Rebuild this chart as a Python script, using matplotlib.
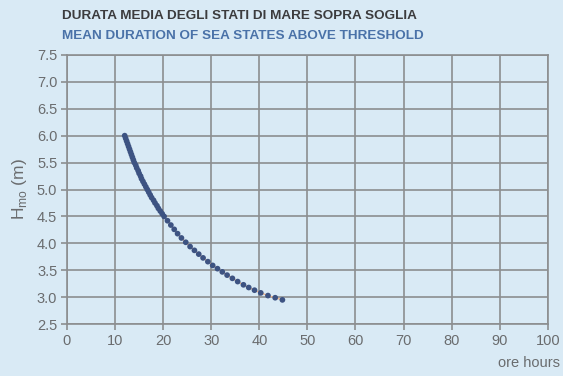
"""Mean duration of sea states above threshold (Hmo vs hours)."""

import matplotlib

matplotlib.use("Agg")
import matplotlib.pyplot as plt

# Curve points: significant wave height (m) vs hours
HMO = [6.00, 5.95, 5.90, 5.85, 5.80, 5.75, 5.70, 5.65, 5.60, 5.55,
       5.50, 5.45, 5.40, 5.35, 5.30, 5.25, 5.20, 5.15, 5.10, 5.05,
       5.00, 4.95, 4.90, 4.85, 4.80, 4.75, 4.70, 4.65, 4.60, 4.55,
       4.50, 4.42, 4.34, 4.26, 4.18, 4.10, 4.02, 3.94, 3.87, 3.80,
       3.73, 3.66, 3.59, 3.53, 3.47, 3.41, 3.35, 3.29, 3.23, 3.18,
       3.13, 3.08, 3.03, 2.99, 2.95]
HOURS = [12.0, 12.2, 12.4, 12.6, 12.8, 13.0, 13.2, 13.4, 13.6, 13.8,
         14.0, 14.3, 14.5, 14.8, 15.0, 15.3, 15.5, 15.8, 16.1, 16.4,
         16.7, 17.0, 17.3, 17.6, 18.0, 18.3, 18.7, 19.0, 19.4, 19.8,
         20.2, 20.9, 21.6, 22.3, 23.0, 23.8, 24.7, 25.6, 26.5, 27.4,
         28.3, 29.3, 30.3, 31.3, 32.3, 33.3, 34.4, 35.5, 36.7, 37.8,
         39.0, 40.3, 41.8, 43.3, 44.8]

X_TICKS = [0, 10, 20, 30, 40, 50, 60, 70, 80, 90, 100]
Y_TICKS = [2.5, 3.0, 3.5, 4.0, 4.5, 5.0, 5.5, 6.0, 6.5, 7.0, 7.5]

BG = "#d9eaf5"
GRID = "#8c8e90"
TXT = "#6a6c6e"

plt.rcParams["font.family"] = ["Liberation Sans", "DejaVu Sans"]

fig = plt.figure(figsize=(5.63, 3.76), dpi=100, facecolor=BG)
ax = fig.add_axes([0.119, 0.138, 0.854, 0.716])
ax.set_facecolor(BG)

ax.set_xlim(0, 100)
ax.set_ylim(2.5, 7.5)
ax.set_xticks(X_TICKS)
ax.set_yticks(Y_TICKS)
ax.set_xticklabels([str(v) for v in X_TICKS])
ax.set_yticklabels([f"{v:.1f}" for v in Y_TICKS])
ax.grid(True, color=GRID, linewidth=1.2, zorder=1)
for s in ax.spines.values():
    s.set_color(GRID)
    s.set_linewidth(1.2)
ax.tick_params(axis="both", colors=GRID, length=4, width=1.2,
               labelcolor=TXT, labelsize=10.5, pad=3)

# faint orange guide line under the dots, then the dots
ax.plot(HOURS, HMO, color="#f2b489", linewidth=1.0, zorder=2)
ax.scatter(HOURS, HMO, s=17, color="#3d5382", edgecolor="none", zorder=3)

ax.set_ylabel("H$_{\\mathregular{mo}}$ (m)", fontsize=12.5, color=TXT, labelpad=6)

fig.text(0.111, 0.957, "DURATA MEDIA DEGLI STATI DI MARE SOPRA SOGLIA",
         fontsize=9.7, fontweight="bold", color="#3c3c3e", ha="left", va="center")
fig.text(0.111, 0.905, "MEAN DURATION OF SEA STATES ABOVE THRESHOLD",
         fontsize=9.7, fontweight="bold", color="#4a72a8", ha="left", va="center")
fig.text(0.995, 0.035, "ore hours", fontsize=10.5, color=TXT,
         ha="right", va="center")

fig.savefig("out.png", dpi=100, facecolor=BG)
